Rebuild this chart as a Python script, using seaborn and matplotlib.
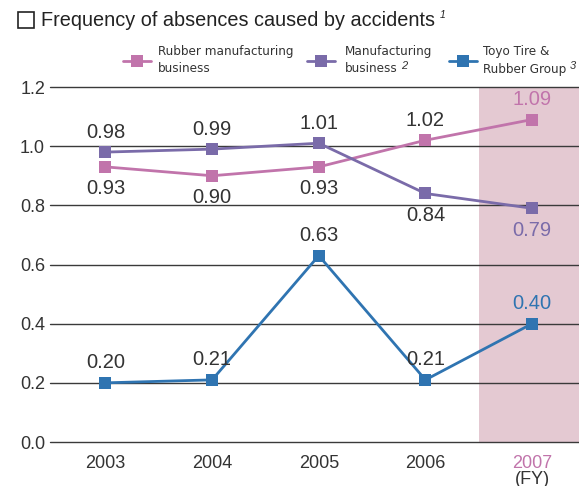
import os
import matplotlib
matplotlib.use("Agg")
import matplotlib.pyplot as plt
from matplotlib.lines import Line2D
from matplotlib.patches import Rectangle
from matplotlib import font_manager
from matplotlib.font_manager import FontProperties
import seaborn as sns
import pandas as pd

years = [2003, 2004, 2005, 2006, 2007]
rubber_mfg = [0.93, 0.90, 0.93, 1.02, 1.09]
manufacturing = [0.98, 0.99, 1.01, 0.84, 0.79]
toyo_group = [0.20, 0.21, 0.63, 0.21, 0.40]

series_names = ["Rubber manufacturing business", "Manufacturing business", "Toyo Tire & Rubber Group"]
legend_lines = [("Rubber manufacturing", "business"), ("Manufacturing", "business"),
                ("Toyo Tire &", "Rubber Group")]
legend_notes = ["", "2", "3"]
colors = ["#c174ab", "#7a6ba9", "#2f74b1"]
# label placement per series and year: +1 above, -1 below
label_side = [[-1, -1, -1, 1, 1], [1, 1, 1, -1, -1], [1, 1, 1, 1, 1]]
yticks = [0.0, 0.2, 0.4, 0.6, 0.8, 1.0, 1.2]

df = pd.DataFrame({
    "year": years * 3,
    "value": rubber_mfg + manufacturing + toyo_group,
    "series": sum([[n] * len(years) for n in series_names], []),
})

sns.set_theme(style="white")
plt.rcParams["font.family"] = ["Liberation Sans", "DejaVu Sans"]
text_color = "#333333"
W, H = 579, 486


def condensed_font(size):
    """Pick a narrow sans face for the legend if one is available."""
    for f in font_manager.fontManager.ttflist:
        base = os.path.basename(f.fname).lower()
        if ("narrow" in base or "condensed" in base) and "sans" in base \
                and "bold" not in base and "italic" not in base and "oblique" not in base \
                and "mono" not in base:
            return FontProperties(fname=f.fname, size=size)
    return FontProperties(family="Liberation Sans", size=size - 0.8)


legend_font = condensed_font(9.6)

fig = plt.figure(figsize=(W / 100, H / 100), dpi=100)
ax = fig.add_axes([50 / W, 1 - 442 / H, 1 - 50 / W, (442 - 87) / H])

# highlighted latest fiscal year
ax.axvspan(2006.5, 2008, color="#e4c9d2", zorder=0, lw=0)

for y in yticks:
    ax.axhline(y, color="#3a3a3a", lw=1.0, zorder=1, clip_on=False)

sns.lineplot(data=df, x="year", y="value", hue="series", hue_order=series_names,
             palette=colors, marker="s", markersize=9, markeredgewidth=0,
             linewidth=2.0, ax=ax, legend=False, zorder=3)

for vals, col, sides in zip([rubber_mfg, manufacturing, toyo_group], colors, label_side):
    for i, (x, v) in enumerate(zip(years, vals)):
        c = col if x == 2007 else text_color
        off = 20 if sides[i] > 0 else -22
        ax.annotate(f"{v:.2f}", (x, v), xytext=(0, off), textcoords="offset pixels",
                    ha="center", va="center", fontsize=14.5, color=c)

ax.set_xlim(2002.48, 2007.44)
ax.set_ylim(0, 1.2)
ax.set_yticks(yticks)
ax.set_yticklabels([f"{t:.1f}" for t in yticks])
ax.set_xticks(years)
ax.set_xticklabels([str(y) for y in years])
ax.tick_params(axis="both", length=0, labelsize=13, colors=text_color)
ax.tick_params(axis="y", pad=3.6)
ax.tick_params(axis="x", pad=9)
for lbl in ax.get_xticklabels():
    if lbl.get_text() == "2007":
        lbl.set_color(colors[0])
ax.set_xlabel("")
ax.set_ylabel("")
for s in ax.spines.values():
    s.set_visible(False)

ax.annotate("(FY)", (2007, 0), xytext=(0, -37), textcoords="offset pixels",
            ha="center", va="center", fontsize=13, color=text_color, annotation_clip=False)

# title with an empty box glyph drawn as a patch
fig.patches.append(Rectangle((18 / W, 1 - 28 / H), 16 / W, 16 / H,
                             transform=fig.transFigure, fill=False, ec="#222222", lw=1.2))
fig.text(41 / W, 1 - 20 / H, "Frequency of absences caused by accidents", fontsize=14.3,
         color="#222222", va="center", ha="left")
fig.text(440 / W, 1 - 15 / H, "1", fontsize=7.5, style="italic",
         color="#222222", va="center")

# legend
renderer = fig.canvas.get_renderer()
leg_x = [137, 321, 463]
txt_x = [158, 345, 483]
for lx, tx, col, (l1, l2), note in zip(leg_x, txt_x, colors, legend_lines, legend_notes):
    fig.lines.append(Line2D([(lx - 14) / W, (lx + 14) / W], [1 - 61 / H] * 2,
                            transform=fig.transFigure, color=col, lw=2.0))
    fig.lines.append(Line2D([lx / W], [1 - 61 / H], transform=fig.transFigure, color=col,
                            marker="s", markersize=9, markeredgewidth=0))
    fig.text(tx / W, 1 - 52 / H, l1, fontproperties=legend_font, color=text_color,
             va="center", ha="left")
    t2 = fig.text(tx / W, 1 - 69 / H, l2, fontproperties=legend_font, color=text_color,
                  va="center", ha="left")
    if note:
        bb = t2.get_window_extent(renderer)
        fig.text((bb.x1 + 3) / W, 1 - 66 / H, note, fontsize=8, style="italic",
                 color=text_color, va="center", ha="left")

fig.savefig("out.png", dpi=100)
